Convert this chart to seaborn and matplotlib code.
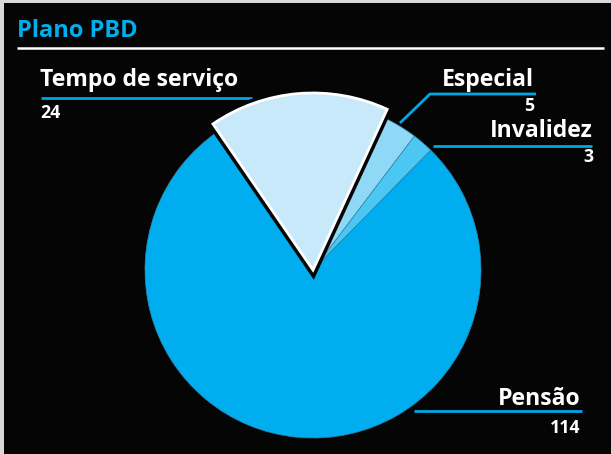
import matplotlib
matplotlib.use("Agg")
import matplotlib.pyplot as plt
import matplotlib.patheffects as pe
from matplotlib.patches import Rectangle
import seaborn as sns

# dados do gráfico
labels = ["Invalidez", "Especial", "Tempo de serviço", "Pensão"]
values = [3, 5, 24, 114]
colors = ["#4cc6f2", "#8fd9f7", "#c8e9f9", "#00aeef"]
title = "Plano PBD"

W, H = 611, 454
BLUE = "#00a6e6"

sns.set_theme(style="dark")
plt.rcParams["font.family"] = ["Open Sans", "DejaVu Sans"]

fig = plt.figure(figsize=(W / 100, H / 100), dpi=100)
fig.patch.set_facecolor("#d8d8d8")
# fundo preto (com a borda cinza à esquerda e em cima)
fig.patches.append(Rectangle((4 / W, 0), 1, (H - 3) / H, transform=fig.transFigure,
                             facecolor="#050505", edgecolor="none", zorder=-1))

ax = fig.add_axes([0, 0, 1, 1])
ax.set_facecolor("none")


def Y(y):
    # coordenadas de pixel (de cima para baixo) -> coordenadas dos dados
    return H - y


wedges, _ = ax.pie(values, colors=colors, startangle=45.5, counterclock=True,
                   center=(313, Y(270)), radius=168,
                   wedgeprops=dict(edgecolor="#2f86b0", linewidth=0.5))

# fatia destacada: tempo de serviço
tempo = wedges[labels.index("Tempo de serviço")]
tempo.set_radius(177)
tempo.set_edgecolor("white")
tempo.set_linewidth(2.0)
tempo.set_zorder(5)
tempo.set_path_effects([pe.withStroke(linewidth=7, foreground="#050505")])

ax.set_xlim(0, W)
ax.set_ylim(0, H)
ax.set_aspect("auto")
ax.axis("off")

# título
ax.text(17, Y(37), title, color="#00aeef", fontsize=17, fontweight="bold",
        ha="left", va="baseline")
ax.plot([17, 604], [Y(48), Y(48)], color="white", lw=1.8, solid_capstyle="butt")

lab_fs = 16.6
num_fs = 12.8
lw = 2.0

# Tempo de serviço
i = labels.index("Tempo de serviço")
ax.text(40, Y(86), labels[i], color="white", fontsize=lab_fs, fontweight="bold", va="baseline")
ax.plot([41, 252], [Y(98), Y(98)], color=BLUE, lw=lw, solid_capstyle="butt")
ax.text(40, Y(118), f"{values[i]}", color="white", fontsize=num_fs, fontweight="bold", va="baseline")

# Especial
i = labels.index("Especial")
ax.text(534, Y(86), labels[i], color="white", fontsize=lab_fs, fontweight="bold",
        ha="right", va="baseline")
ax.plot([400, 430, 536], [Y(123), Y(94), Y(94)], color=BLUE, lw=lw, solid_capstyle="butt")
ax.text(534, Y(111), f"{values[i]}", color="white", fontsize=num_fs, fontweight="bold",
        ha="right", va="baseline")

# Invalidez
i = labels.index("Invalidez")
ax.text(593, Y(137), labels[i], color="white", fontsize=lab_fs, fontweight="bold",
        ha="right", va="baseline")
ax.plot([433, 592], [Y(146), Y(146)], color=BLUE, lw=lw, solid_capstyle="butt")
ax.text(593, Y(162), f"{values[i]}", color="white", fontsize=num_fs, fontweight="bold",
        ha="right", va="baseline")

# Pensão
i = labels.index("Pensão")
ax.text(580, Y(405), labels[i], color="white", fontsize=lab_fs, fontweight="bold",
        ha="right", va="baseline")
ax.plot([414, 582], [Y(411), Y(411)], color=BLUE, lw=lw, solid_capstyle="butt")
ax.text(580, Y(433), f"{values[i]}", color="white", fontsize=num_fs, fontweight="bold",
        ha="right", va="baseline")

fig.savefig("out.png", dpi=100, facecolor=fig.get_facecolor())
plt.close(fig)
